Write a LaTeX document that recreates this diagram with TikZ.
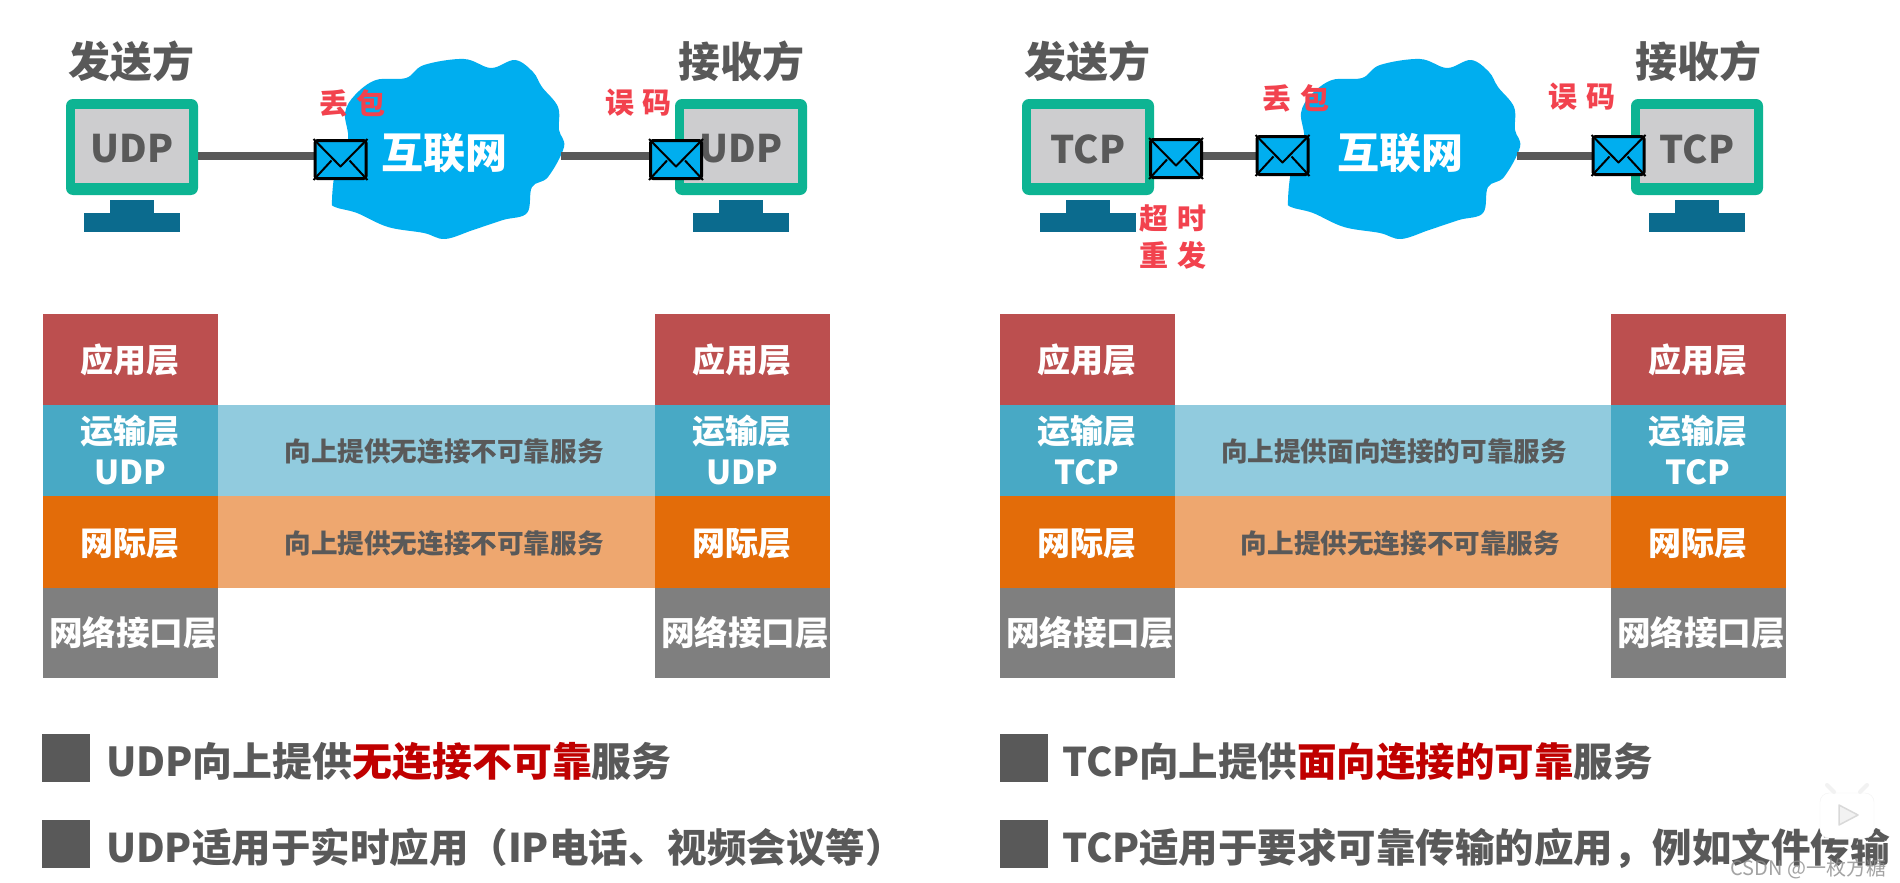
\documentclass[tikz,border=0pt]{standalone}
\usepackage{fontspec}
\setmainfont{Noto Sans CJK SC}
\usetikzlibrary{calc}
\definecolor{txtgray}{HTML}{595959}
\definecolor{teal1}{HTML}{0DB493}
\definecolor{screen}{HTML}{CDCDCF}
\definecolor{stand}{HTML}{0B6B8E}
\definecolor{cloudblue}{HTML}{00AEEF}
\definecolor{redlbl}{HTML}{F2424E}
\definecolor{strongred}{HTML}{C00000}
\definecolor{appc}{HTML}{BC4F4F}
\definecolor{transc}{HTML}{48A9C5}
\definecolor{netc}{HTML}{E36C09}
\definecolor{linkc}{HTML}{7F7F7F}
\definecolor{translt}{HTML}{91CBDE}
\definecolor{netlt}{HTML}{EEA76F}
\newcommand{\sz}[2]{\fontsize{#1}{#2}\selectfont}
\tikzset{
  x=1pt,y=-1pt,
  base/.style={inner sep=0pt,outer sep=0pt,text=txtgray},
  party/.style={base,font=\sz{42}{49}\bfseries},
  monlabel/.style={base,font=\sz{38}{44}\bfseries},
  netlabel/.style={base,text=white,font=\sz{42}{49}\bfseries},
  redtag/.style={base,text=redlbl,font=\sz{29}{34}\bfseries},
  layer/.style={base,text=white,font=\sz{33}{41}\bfseries,align=center,minimum width=175pt},
  linklayer/.style={base,text=white,font=\sz{33.6}{41}\bfseries,align=center},
  svc/.style={base,font=\sz{26.6}{32}\bfseries,minimum height=91pt},
  bullet/.style={fill=txtgray,inner sep=0pt,minimum width=48pt,minimum height=48pt},
  bodyline/.style={base,font=\sz{39.5}{46}\bfseries,anchor=base west},
  monframe/.style={fill=teal1,rounded corners=7pt,inner sep=0pt,minimum width=132pt,minimum height=96pt},
  monscreen/.style={fill=screen,inner sep=0pt,minimum width=114pt,minimum height=74pt},
  standc/.style={fill=stand,inner sep=0pt},
  wire/.style={draw=txtgray,line width=8pt},
  envbox/.style={draw=black,fill=cloudblue,line width=3pt,rounded corners=2.5pt,inner sep=0pt,minimum width=51pt,minimum height=38pt},
  envfold/.style={draw=black,line width=2pt,line join=round},
}
\newcommand{\envnode}[3]{%
  \node[envbox] (#1) at (#2,#3) {};
  \draw[envfold] (#1.north west) -- ($(#1.center)+(0,7)$) -- (#1.north east);
  \draw[envfold] (#1.south west) -- ($(#1.center)+(-9,1)$);
  \draw[envfold] (#1.south east) -- ($(#1.center)+(9,1)$);
}
\newcommand{\computer}[3]{%
  \node[monframe] (#1) at (#2,147) {};
  \node[monscreen] (#1s) at (#2,146) {};
  \node[standc,minimum width=44pt,minimum height=13pt] (#1n) at (#2,206.5) {};
  \node[standc,minimum width=96pt,minimum height=19pt] (#1b) at (#2,222.5) {};
  \node[monlabel] at (#2,149) {#3};
}
\newcommand{\cloudshape}[2]{%
  \fill[cloudblue,shift={(#1,0)}] plot[smooth cycle,tension=0.6] coordinates {
   (332,200)(336,167)(348,140)(345,113)(355,95)(376,80)(406,78)(424,65)(464,59)
   (491,68)(515,60)(533,72)(542,87)(558,107)(559,130)(564,147)(548,177)(532,187)
   (527,213)(503,220)(473,230)(445,239)(424,233)(388,227)(357,213)(335,207)};
  \coordinate (#2w) at (340+#1,156);
  \coordinate (#2e) at (561+#1,156);
}
\newcommand{\stack}[3]{% name, center x, transport label
  \fill[appc] (#2-87.5,314) rectangle (#2+87.5,405);
  \fill[transc] (#2-87.5,405) rectangle (#2+87.5,496);
  \fill[netc] (#2-87.5,496) rectangle (#2+87.5,588);
  \fill[linkc] (#2-87.5,588) rectangle (#2+87.5,678);
  \node[layer] (#1a) at (#2,360) {应用层};
  \node[layer] (#1t) at (#2,450) {运输层\\#3};
  \node[layer] (#1n) at (#2,544) {网际层};
  \node[linklayer] (#1l) at (#2+3,633) {网络接口层};
}
\begin{document}
\begin{tikzpicture}
\useasboundingbox (0,0) rectangle (1900,883);
\fill[white] (0,0) rectangle (1900,883);

% ---- left diagram
\node[party] at (131,61) {发送方};
\node[party] at (741.5,61) {接收方};
\cloudshape{0}{cL}
\computer{mL}{132}{UDP}
\computer{mR}{741}{UDP}
\coordinate (aL) at (198,156);
\coordinate (aR) at (676,156);
\draw[wire] (aL) -- (cLw);
\draw[wire] (cLe) -- (aR);
\envnode{e1}{340.5}{159.5}
\envnode{e2}{676}{159.5}
\node[netlabel] at (444,153) {互联网};
\node[redtag] at (352.5,103) {丢\hspace{9pt}包};
\node[redtag] at (638.5,103) {误\hspace{9pt}码};

% ---- right diagram
\node[party] at (1087,61) {发送方};
\node[party] at (1698,61) {接收方};
\cloudshape{956}{cR}
\computer{mA}{1088}{TCP}
\computer{mB}{1697}{TCP}
\coordinate (bL) at (1154,156);
\coordinate (bR) at (1631,156);
\draw[wire] (bL) -- (cRw);
\draw[wire] (cRe) -- (bR);
\envnode{e3}{1176}{158.5}
\envnode{e4}{1282.5}{155.5}
\envnode{e5}{1618.5}{155.5}
\node[netlabel] at (1400,153) {互联网};
\node[redtag] at (1296,98) {丢\hspace{9pt}包};
\node[redtag] at (1582,97) {误\hspace{9pt}码};
\node[redtag] at (1173,218) {超\hspace{9pt}时};
\node[redtag] at (1173,255) {重\hspace{9pt}发};

% ---- protocol stacks
\fill[translt] (217.5,405) rectangle (654.5,496);
\fill[netlt] (217.5,496) rectangle (654.5,588);
\fill[translt] (1174,405) rectangle (1610.5,496);
\fill[netlt] (1174,496) rectangle (1610.5,588);
\stack{sa}{130}{UDP}
\stack{sb}{742}{UDP}
\stack{sc}{1087}{TCP}
\stack{sd}{1698}{TCP}
\node[svc] at (444,452) {向上提供无连接不可靠服务};
\node[svc] at (444,544) {向上提供无连接不可靠服务};
\node[svc] at (1394,452) {向上提供面向连接的可靠服务};
\node[svc] at (1400.5,544) {向上提供无连接不可靠服务};

% ---- bottom lines
\node[bullet] at (66,757.5) {};
\node[bullet] at (66,844) {};
\node[bullet] at (1024,757.5) {};
\node[bullet] at (1024,844) {};
\node[bodyline,font=\sz{39.9}{46}\bfseries] at (106,776) {UDP向上提供\textcolor{strongred}{无连接不可靠}服务};
\node[bodyline] at (106,862) {UDP适用于实时应用（IP电话、视频会议等）};
\node[bodyline] at (1062,776) {TCP向上提供\textcolor{strongred}{面向连接的可靠}服务};
\node[bodyline] at (1062,862) {TCP适用于要求可靠传输的应用，例如文件传输};

% ---- watermark
\draw[draw=black!5,fill=white,rounded corners=9pt] (1820,793) rectangle (1874,838);
\draw[black!5,line width=4pt,line cap=round] (1834,792) -- (1827,785);
\draw[black!5,line width=4pt,line cap=round] (1860,792) -- (1867,785);
\draw[draw=black!15,fill=black!5,line width=1.5pt,line join=round] (1839,805) -- (1858,815) -- (1839,825) -- cycle;
\node[base,text=black!45,opacity=.8,font=\sz{20}{24},anchor=base east] at (1886,875) {CSDN @一枚方糖};
\end{tikzpicture}
\end{document}
